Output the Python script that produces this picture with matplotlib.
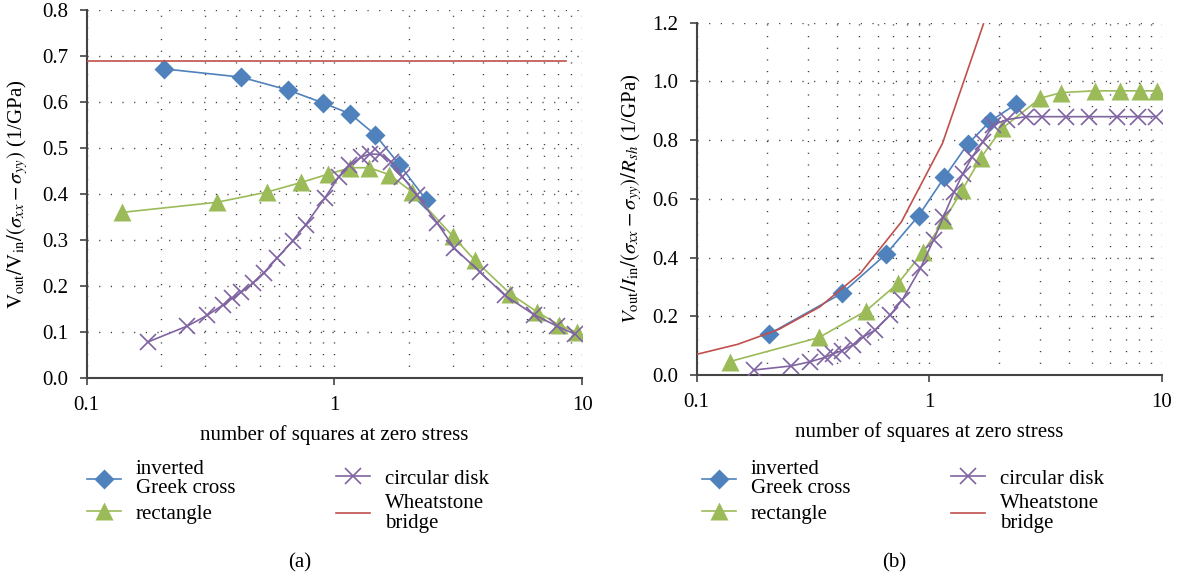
import matplotlib
matplotlib.use("Agg")
import matplotlib.pyplot as plt
from matplotlib.ticker import LogLocator, FixedLocator, NullFormatter
from matplotlib.lines import Line2D
from matplotlib.font_manager import FontProperties

plt.rcParams['font.family'] = ['Liberation Serif', 'DejaVu Serif']
plt.rcParams['mathtext.fontset'] = 'stix'

# number of squares at zero stress
cross_x = [0.205, 0.42, 0.65, 0.9, 1.16, 1.46, 1.83, 2.35]
rect_x = [0.139, 0.336, 0.533, 0.733, 0.942, 1.16, 1.385, 1.665, 2.055,
          3.0, 3.69, 5.13, 6.57, 8.08, 9.55]
disk_x = [0.176, 0.255, 0.306, 0.356, 0.386, 0.42, 0.468, 0.52, 0.585,
          0.678, 0.765, 0.915, 1.043, 1.15, 1.28, 1.39, 1.53, 1.70, 1.88,
          2.15, 2.6, 3.05, 3.88, 4.87, 6.38, 7.9, 9.4]
bridge_x = [0.1, 0.15, 0.225, 0.338, 0.506, 0.759, 1.139, 1.709,
            2.563, 3.844, 5.767, 8.65]

# (a) Vout/Vin/(sxx - syy)
cross_a = [0.672, 0.654, 0.626, 0.598, 0.574, 0.529, 0.464, 0.387]
rect_a = [0.360, 0.382, 0.404, 0.425, 0.443, 0.457, 0.457, 0.442, 0.405,
          0.309, 0.256, 0.183, 0.144, 0.115, 0.099]
disk_a = [0.078, 0.113, 0.136, 0.159, 0.173, 0.186, 0.206, 0.229, 0.260,
          0.298, 0.333, 0.391, 0.438, 0.462, 0.480, 0.487, 0.486, 0.470,
          0.438, 0.398, 0.337, 0.282, 0.230, 0.180, 0.138, 0.113, 0.095]
bridge_a = [0.69] * len(bridge_x)

# (b) Vout/Iin/(sxx - syy)/Rsh
cross_b = [0.140, 0.278, 0.411, 0.543, 0.673, 0.786, 0.865, 0.922]
rect_b = [0.046, 0.128, 0.218, 0.312, 0.420, 0.528, 0.630, 0.740, 0.840,
          0.943, 0.962, 0.968, 0.968, 0.968, 0.968]
disk_b = [0.017, 0.031, 0.045, 0.060, 0.072, 0.083, 0.102, 0.130, 0.153,
          0.204, 0.256, 0.363, 0.460, 0.539, 0.625, 0.684, 0.744, 0.795,
          0.852, 0.870, 0.880, 0.880, 0.880, 0.880, 0.880, 0.880, 0.880]
bridge_b = [0.0705, 0.1046, 0.155, 0.232, 0.347, 0.522, 0.789, 1.196]

blue = '#4f81bd'
green = '#9bbb59'
purple = '#8064a2'
red = '#c0504d'
fs = 15
serif = FontProperties(family='Liberation Serif', size=fs)

fig = plt.figure(figsize=(11.78, 5.8), dpi=100)
axa = fig.add_axes([0.0736, 0.3483, 0.4205, 0.6345])
axb = fig.add_axes([0.5914, 0.3534, 0.3950, 0.6074])


def draw(ax, ca, ra, da, bx, ba, ymax, yticks):
    ax.plot(cross_x, ca, color=blue, lw=1.2, marker='D', ms=10,
            mec='none', mfc=blue, zorder=3)
    ax.plot(rect_x, ra, color=green, lw=1.2, marker='^', ms=12.5,
            mec='none', mfc=green, zorder=3)
    ax.plot(disk_x, da, color=purple, lw=1.2, marker='x', ms=11,
            mew=1.2, zorder=4)
    ax.plot(bx, ba, color=red, lw=1.2, zorder=5)

    ax.set_xscale('log')
    ax.set_xlim(0.1, 10)
    ax.set_ylim(0, ymax)
    ax.xaxis.set_major_locator(FixedLocator([0.1, 1, 10]))
    ax.set_xticklabels(['0.1', '1', '10'], fontproperties=serif)
    ax.xaxis.set_minor_locator(LogLocator(base=10, subs=range(2, 10)))
    ax.xaxis.set_minor_formatter(NullFormatter())
    ax.set_yticks(yticks)
    ax.set_yticklabels(['%.1f' % v for v in yticks], fontproperties=serif)

    ax.grid(True, which='both', axis='x', color='#333333',
            lw=1.0, linestyle=(0, (0.8, 7.6)))
    ax.grid(True, which='major', axis='y', color='#333333',
            lw=1.0, linestyle=(0, (0.8, 7.6)))
    ax.set_axisbelow(True)

    for side in ['top', 'right']:
        ax.spines[side].set_visible(False)
    for side in ['left', 'bottom']:
        ax.spines[side].set_color('#444444')
        ax.spines[side].set_linewidth(1.5)
    ax.tick_params(which='major', direction='out', length=5, width=1.2,
                   color='#444444', pad=8)
    ax.tick_params(which='minor', length=0)


draw(axa, cross_a, rect_a, disk_a, bridge_x, bridge_a, 0.8,
     [0.0, 0.1, 0.2, 0.3, 0.4, 0.5, 0.6, 0.7, 0.8])
draw(axb, cross_b, rect_b, disk_b, bridge_x[:len(bridge_b)], bridge_b, 1.2,
     [0.0, 0.2, 0.4, 0.6, 0.8, 1.0, 1.2])

axa.set_ylabel(r'$\mathrm{V}_{\mathrm{out}}/\mathrm{V}_{\mathrm{in}}/(\sigma_{xx}-\sigma_{yy})$ (1/GPa)',
               fontproperties=serif, va='center')
axa.yaxis.set_label_coords(-0.139, 0.5)
axb.set_ylabel(r'$V_{\mathrm{out}}/I_{\mathrm{in}}/(\sigma_{xx}-\sigma_{yy})/R_{sh}$ (1/GPa)',
               fontproperties=serif, va='center')
axb.yaxis.set_label_coords(-0.140, 0.5)

axa.set_xlabel('number of squares at zero stress', fontproperties=serif,
               va='center')
axa.xaxis.set_label_coords(0.5, -0.155)
axb.set_xlabel('number of squares at zero stress', fontproperties=serif,
               va='center')
axb.xaxis.set_label_coords(0.5, -0.162)

h_cross = Line2D([], [], color=blue, lw=1.2, marker='D', ms=10, mec='none')
h_rect = Line2D([], [], color=green, lw=1.2, marker='^', ms=12.5, mec='none')
h_disk = Line2D([], [], color=purple, lw=1.2, marker='x', ms=11, mew=1.2)
h_bridge = Line2D([], [], color=red, lw=1.2)

W, H = 1178.0, 580.0


def add_legend(handles, labels, left_px, top_px):
    leg = fig.legend(handles, labels, loc='upper left',
                     bbox_to_anchor=(left_px / W, 1 - top_px / H),
                     frameon=False, prop=serif, borderpad=0,
                     borderaxespad=0, handlelength=1.63, handletextpad=0.72,
                     labelspacing=0.28)
    for t in leg.get_texts():
        t.set_linespacing(1.02)
    return leg


for x0 in [87, 702]:
    add_legend([h_cross, h_rect], ['inverted\nGreek cross', 'rectangle'],
               x0, 460)
    add_legend([h_disk, h_bridge], ['circular disk', 'Wheatstone\nbridge'],
               x0 + 249, 469)

fig.text(299.6 / W, 1 - 563 / H, '(a)', fontproperties=serif,
         ha='center', va='center')
fig.text(894 / W, 1 - 563 / H, '(b)', fontproperties=serif,
         ha='center', va='center')

fig.savefig('out.png', dpi=100)
